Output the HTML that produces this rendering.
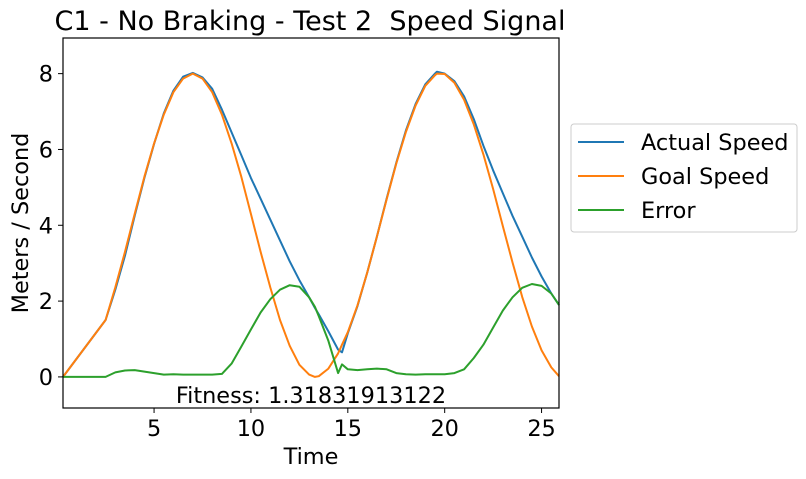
<!DOCTYPE html>
<html><head><meta charset="utf-8"><style>
body{margin:0;background:#fff;}
svg{display:block;font-family:"DejaVu Sans","Liberation Sans",sans-serif;}
</style></head><body>
<svg id="chart" width="806" height="479">
<text x="310" y="30" font-size="27" text-anchor="middle" xml:space="preserve" style="white-space:pre">C1 - No Braking - Test 2  Speed Signal</text>
<g id="plot"></g>
<rect x="63" y="38" width="496" height="370" fill="none" stroke="#000" stroke-width="1.2"/>
<text x="311" y="403" font-size="22.4" text-anchor="middle">Fitness: 1.31831913122</text>
<text x="311" y="464" font-size="22.4" text-anchor="middle">Time</text>
<text transform="translate(28,223) rotate(-90)" font-size="22.4" text-anchor="middle">Meters / Second</text>
<g>
<rect x="571" y="124" width="226" height="108" rx="3" fill="#fff" stroke="#ccc"/>
<line x1="578" y1="142" x2="624" y2="142" stroke="#1f77b4" stroke-width="2"/>
<text x="641" y="150" font-size="22.4">Actual Speed</text>
<line x1="578" y1="176" x2="624" y2="176" stroke="#ff7f0e" stroke-width="2"/>
<text x="641" y="184" font-size="22.4">Goal Speed</text>
<line x1="578" y1="210" x2="624" y2="210" stroke="#2ca02c" stroke-width="2"/>
<text x="641" y="218" font-size="22.4">Error</text>
</g>
</svg>
<script>
const times=[0.3,2.5,3,3.5,4,4.5,5,5.5,6,6.5,7,7.5,8,8.5,9,9.5,10,10.5,11,11.5,12,12.5,13,13.3,13.5,14,14.5,14.7,15,15.5,16,16.5,17,17.5,18,18.5,19,19.5,19.6,20,20.5,21,21.5,22,22.5,23,23.5,24,24.5,25,25.5,25.9];
const goalSpeed=[0,1.5,2.36,3.3,4.3,5.28,6.16,6.92,7.51,7.87,8.0,7.87,7.51,6.92,6.16,5.28,4.3,3.3,2.36,1.5,0.82,0.32,0.06,0,0.02,0.22,0.62,0.85,1.18,1.89,2.75,3.7,4.68,5.63,6.46,7.16,7.68,7.96,8.0,7.99,7.76,7.31,6.66,5.87,4.96,3.98,3.02,2.11,1.33,0.7,0.25,0.02];
const actualSpeed=[0,1.5,2.3,3.2,4.25,5.25,6.15,6.95,7.55,7.92,8.02,7.9,7.6,7.05,6.45,5.85,5.25,4.7,4.15,3.6,3.05,2.55,2.1,1.82,1.65,1.2,0.72,0.65,1.15,1.87,2.75,3.7,4.7,5.65,6.5,7.2,7.72,8.0,8.05,8.0,7.8,7.4,6.8,6.1,5.45,4.85,4.25,3.7,3.15,2.65,2.2,1.9];
const errorVals=[0,0,0.12,0.17,0.18,0.14,0.1,0.06,0.07,0.06,0.06,0.06,0.06,0.08,0.35,0.8,1.25,1.7,2.05,2.3,2.42,2.38,2.1,1.85,1.6,0.95,0.1,0.33,0.2,0.18,0.2,0.22,0.2,0.1,0.07,0.06,0.07,0.07,0.07,0.07,0.1,0.2,0.5,0.85,1.3,1.75,2.1,2.35,2.45,2.4,2.2,1.9];
const xTicks=[5,10,15,20,25];
const yTicks=[0,2,4,6,8];
const X0=63,X1=559,Y0=408,Y1=38,xmin=0.3,xmax=25.9,ymin=-0.82,ymax=8.94;
const sx=t=>X0+(t-xmin)/(xmax-xmin)*(X1-X0);
const sy=v=>Y0-(v-ymin)/(ymax-ymin)*(Y0-Y1);
const NS='http://www.w3.org/2000/svg';
const svg=document.getElementById('chart');
const plot=document.getElementById('plot');
function mk(tag,attrs,parent){const e=document.createElementNS(NS,tag);for(const k in attrs)e.setAttribute(k,attrs[k]);parent.appendChild(e);return e;}
xTicks.forEach(t=>{
  const l=mk('line',{x1:sx(t),x2:sx(t),y1:Y0,y2:Y0+5,stroke:'#000'},svg);
  
  
  const tx=mk('text',{x:sx(t),y:Y0+28,'font-size':22.4,'text-anchor':'middle'},svg);
  tx.textContent=t;
  
  
});
yTicks.forEach(v=>{
  const l=mk('line',{x1:X0-5,x2:X0,y1:sy(v),y2:sy(v),stroke:'#000'},svg);
  
  
  const tx=mk('text',{x:X0-10,y:sy(v)+8,'font-size':22.4,'text-anchor':'end'},svg);
  tx.textContent=v;
  
  
});
function series(vals,color,name){
  const d=vals.map((v,i)=>(i?'L':'M')+sx(times[i]).toFixed(1)+','+sy(v).toFixed(1)).join('');
  const p=mk('path',{d:d,fill:'none',stroke:color,'stroke-width':2,'stroke-linejoin':'round'},plot);
  
  
}
series(actualSpeed,'#1f77b4','actual-speed-line');
series(goalSpeed,'#ff7f0e','goal-speed-line');
series(errorVals,'#2ca02c','error-line');
</script>
</body></html>
